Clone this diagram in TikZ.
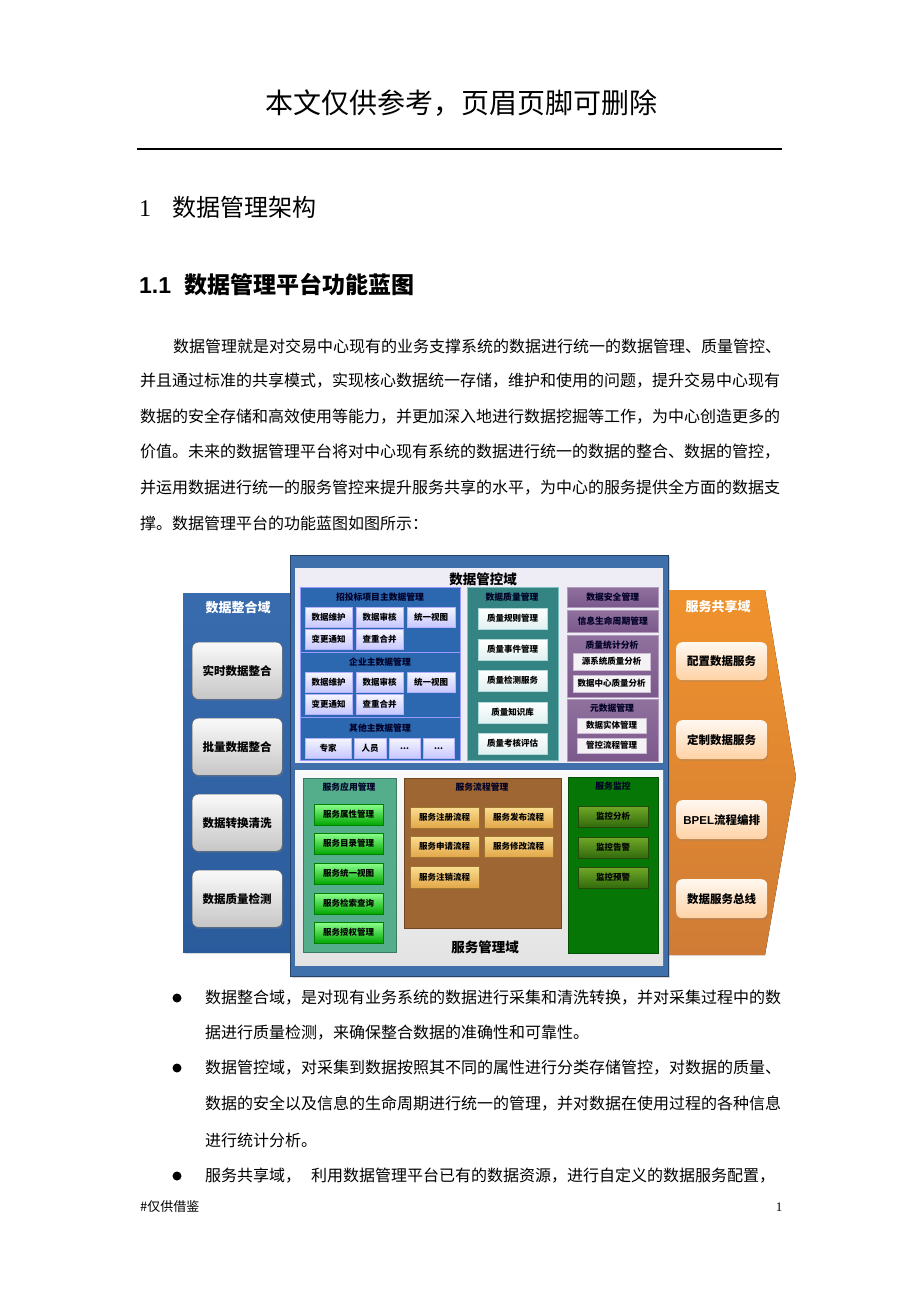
\documentclass[tikz,border=0pt]{standalone}
\usepackage{fontspec}
\usepackage{xcolor}
\setmainfont{Liberation Serif}
\newfontfamily\cjk{Noto Sans CJK SC}
\newfontfamily\arial{Liberation Sans}
\usetikzlibrary{positioning,shadows}
\newcommand{\setfs}[1]{\fontsize{#1}{#1}\selectfont}
\definecolor{intblue}{RGB}{46,100,170}
\definecolor{ctrlblue}{RGB}{64,112,172}
\definecolor{ctrlbg}{RGB}{238,237,246}
\definecolor{mdblue}{RGB}{44,104,176}
\definecolor{qualteal}{RGB}{52,132,132}
\definecolor{secpurple}{RGB}{124,88,140}
\definecolor{appteal}{RGB}{84,174,140}
\definecolor{flowbrown}{RGB}{158,102,50}
\definecolor{flowtop}{RGB}{250,222,145}
\definecolor{flowbot}{RGB}{226,166,72}
\definecolor{mongreen}{RGB}{6,118,6}
\definecolor{montop}{RGB}{112,168,40}
\definecolor{monbot}{RGB}{50,105,12}
\definecolor{shrorange}{RGB}{240,146,44}
\definecolor{shrdark}{RGB}{208,124,54}

\tikzset{
  wh/.style 2 args={minimum width=#1, minimum height=#2, anchor=north west, inner sep=0pt},
  para/.style={anchor=west, inner sep=0pt, font=\cjk\setfs{16}},
  intbox/.style={rounded corners=6pt, draw=gray!70!black, top color=white!96!gray, bottom color=gray!45,
    font=\cjk\bfseries\setfs{11.5}, drop shadow={opacity=0.35, shadow xshift=1pt, shadow yshift=-1.5pt}},
  shrbox/.style={rounded corners=6pt, top color=orange!6, bottom color=orange!35!white,
    font=\cjk\bfseries\setfs{11.5}, drop shadow={opacity=0.3, shadow xshift=1pt, shadow yshift=-1.5pt}},
  domttl/.style={font=\cjk\bfseries\setfs{13}, inner sep=0pt},
  mdblock/.style={fill=mdblue, draw=blue!40!white},
  blkttl/.style={font=\cjk\bfseries\setfs{8.8}, inner sep=0pt, text=black!85!blue},
  mdsub/.style={top color=blue!4, bottom color=blue!22, draw=blue!30, font=\cjk\bfseries\setfs{8.5}},
  qualsub/.style={top color=white, bottom color=teal!12, draw=teal!30, font=\cjk\bfseries\setfs{8.5}},
  purblock/.style={top color=secpurple!85, bottom color=secpurple, draw=secpurple!60},
  pursub/.style={fill=white!92!secpurple, draw=secpurple!40, font=\cjk\bfseries\setfs{8.5}},
  appbtn/.style={top color=green!45!white, bottom color=green!65!black, draw=green!50!black,
    font=\cjk\bfseries\setfs{8.5}, drop shadow={opacity=0.3, shadow xshift=1pt, shadow yshift=-1pt}},
  flowbtn/.style={top color=flowtop, bottom color=flowbot, draw=flowbot!70!black,
    font=\cjk\bfseries\setfs{8.5}, drop shadow={opacity=0.3, shadow xshift=1pt, shadow yshift=-1pt}},
  monbtn/.style={top color=montop, bottom color=monbot, draw=monbot!70!black,
    font=\cjk\bfseries\setfs{8.5}, drop shadow={opacity=0.3, shadow xshift=1pt, shadow yshift=-1pt}},
  bullet/.style={circle, fill=black, inner sep=0pt, minimum size=9pt}
}

\begin{document}
\begin{tikzpicture}[x=1pt, y=-1pt]
    \useasboundingbox (0,0) rectangle (920,1302);
    \fill[white] (0,0) rectangle (920,1302);

    % page header
    \node[font=\cjk\setfs{28}] (hdr) at (461,103) {本文仅供参考，页眉页脚可删除};
    \coordinate (rulel) at (137,149);
    \coordinate (ruler) at (782,149);
    \draw[line width=1.2pt] (rulel) -- (ruler);

    % headings
    \node[anchor=west, inner sep=0pt, font=\setfs{24}] (h1) at (139,207) {1\hspace{21pt}{\cjk 数据管理架构}};
    \node[anchor=west, inner sep=0pt, font=\bfseries\setfs{23}] (h2) at (139,285) {{\arial 1.1}\hspace{13pt}{\cjk 数据管理平台功能蓝图}};

    % paragraph
    \node[para] (p1) at (173,346) {数据管理就是对交易中心现有的业务支撑系统的数据进行统一的数据管理、质量管控、};
    \node[para] (p2) at (140,381) {并且通过标准的共享模式，实现核心数据统一存储，维护和使用的问题，提升交易中心现有};
    \node[para] (p3) at (140,417) {数据的安全存储和高效使用等能力，并更加深入地进行数据挖掘等工作，为中心创造更多的};
    \node[para] (p4) at (140,452) {价值。未来的数据管理平台将对中心现有系统的数据进行统一的数据的整合、数据的管控，};
    \node[para] (p5) at (140,488) {并运用数据进行统一的服务管控来提升服务共享的水平，为中心的服务提供全方面的数据支};
    \node[para] (p6) at (140,523) {撑。数据管理平台的功能蓝图如图所示：};

    % ---- 数据整合域 ----
    \node[wh={107}{359}, top color=intblue!95!white, bottom color=intblue!92!black,
          drop shadow={opacity=0.3, shadow xshift=1.5pt, shadow yshift=-1.5pt}] (intdom) at (183,593) {};
    \node[domttl, text=white] (intttl) at (238,608) {数据整合域};
    \node[intbox, wh={90}{57}] (rtint) at (192,642) {实时数据整合};
    \node[intbox, wh={90}{57}] (btint) at (192,718) {批量数据整合};
    \node[intbox, wh={90}{57}] (cvint) at (192,794) {数据转换清洗};
    \node[intbox, wh={90}{57}] (qcint) at (192,870) {数据质量检测};

    % ---- 服务共享域 ----
    \fill[top color=shrorange, bottom color=shrdark] (667,590) -- (765,590) -- (796,777) -- (765,955) -- (667,955) -- cycle;
    \node[domttl, text=white] (shrttl) at (718,607) {服务共享域};
    \node[shrbox, wh={91}{38}] (cfgsvc) at (676,642) {配置数据服务};
    \node[shrbox, wh={91}{39}] (cussvc) at (676,720) {定制数据服务};
    \node[shrbox, wh={91}{39}] (bpel) at (676,800) {{\arial BPEL}流程编排};
    \node[shrbox, wh={91}{39}] (bus) at (676,879) {数据服务总线};

    % ---- center frame ----
    \node[wh={378}{421}, fill=ctrlblue, draw=ctrlblue!60!black, line width=1pt,
          drop shadow={opacity=0.3, shadow xshift=1.5pt, shadow yshift=-1.5pt}] (frame) at (290,555) {};
    \node[wh={368}{195}, fill=ctrlbg] (ctrlarea) at (295,568) {};
    \node[wh={368}{195}, top color=white!96!gray, bottom color=gray!22] (svcarea) at (295,770) {};
    \node[font=\cjk\bfseries\setfs{13.5}, inner sep=0pt] (ctrlttl) at (483,579) {数据管控域};

    % master data blocks
    \node[mdblock, wh={160}{65}] (mdA) at (300,587) {};
    \node[blkttl] (mdAttl) at (380,597) {招投标项目主数据管理};
    \node[mdsub, wh={47}{20}] (mdA1) at (305,607) {数据维护};
    \node[mdsub, wh={47}{20}] (mdA2) at (356,607) {数据审核};
    \node[mdsub, wh={48}{20}] (mdA3) at (407,607) {统一视图};
    \node[mdsub, wh={47}{20}] (mdA4) at (305,629) {变更通知};
    \node[mdsub, wh={47}{20}] (mdA5) at (356,629) {查重合并};

    \node[mdblock, wh={160}{65}] (mdB) at (300,652) {};
    \node[blkttl] (mdBttl) at (380,662) {企业主数据管理};
    \node[mdsub, wh={47}{20}] (mdB1) at (305,672) {数据维护};
    \node[mdsub, wh={47}{20}] (mdB2) at (356,672) {数据审核};
    \node[mdsub, wh={48}{20}] (mdB3) at (407,672) {统一视图};
    \node[mdsub, wh={47}{20}] (mdB4) at (305,694) {变更通知};
    \node[mdsub, wh={47}{20}] (mdB5) at (356,694) {查重合并};

    \node[mdblock, wh={160}{43}] (mdC) at (300,717) {};
    \node[blkttl] (mdCttl) at (380,728) {其他主数据管理};
    \node[mdsub, wh={46}{20}] (mdC1) at (305,738) {专家};
    \node[mdsub, wh={32}{20}] (mdC2) at (354,738) {人员};
    \node[mdsub, wh={31}{20}] (mdC3) at (389,738) {...};
    \node[mdsub, wh={31}{20}] (mdC4) at (423,738) {...};

    % quality management
    \node[wh={91}{173}, fill=qualteal, draw=teal!50] (qual) at (467,587) {};
    \node[blkttl] (qualttl) at (512,597) {数据质量管理};
    \node[qualsub, wh={69}{21}] (qual1) at (478,608) {质量规则管理};
    \node[qualsub, wh={69}{21}] (qual2) at (478,639) {质量事件管理};
    \node[qualsub, wh={69}{21}] (qual3) at (478,670) {质量检测服务};
    \node[qualsub, wh={69}{21}] (qual4) at (478,702) {质量知识库};
    \node[qualsub, wh={69}{21}] (qual5) at (478,733) {质量考核评估};

    % security / lifecycle / statistics / metadata
    \node[purblock, wh={91}{20}, blkttl] (sec) at (567,587) {数据安全管理};
    \node[purblock, wh={91}{22}, blkttl] (life) at (567,610) {信息生命周期管理};
    \node[purblock, wh={91}{62}] (stat) at (567,635) {};
    \node[blkttl] (statttl) at (612,645) {质量统计分析};
    \node[pursub, wh={77}{17}] (stat1) at (573,653) {源系统质量分析};
    \node[pursub, wh={77}{17}] (stat2) at (573,675) {数据中心质量分析};
    \node[purblock, wh={91}{62}] (meta) at (567,699) {};
    \node[blkttl] (metattl) at (612,708) {元数据管理};
    \node[pursub, wh={69}{15}] (meta1) at (577,718) {数据实体管理};
    \node[pursub, wh={69}{15}] (meta2) at (577,738) {管控流程管理};

    % ---- 服务管理域 ----
    \node[wh={93}{174}, fill=appteal, draw=appteal!70!black] (app) at (303,778) {};
    \node[blkttl] (appttl) at (349,787) {服务应用管理};
    \node[appbtn, wh={69}{21}] (app1) at (314,804) {服务属性管理};
    \node[appbtn, wh={69}{21}] (app2) at (314,833) {服务目录管理};
    \node[appbtn, wh={69}{21}] (app3) at (314,863) {服务统一视图};
    \node[appbtn, wh={69}{21}] (app4) at (314,893) {服务检索查询};
    \node[appbtn, wh={69}{21}] (app5) at (314,922) {服务授权管理};

    \node[wh={157}{150}, fill=flowbrown, draw=flowbrown!70!black] (flow) at (404,778) {};
    \node[blkttl] (flowttl) at (482,787) {服务流程管理};
    \node[flowbtn, wh={69}{21}] (flow1) at (410,807) {服务注册流程};
    \node[flowbtn, wh={69}{21}] (flow2) at (484,807) {服务发布流程};
    \node[flowbtn, wh={69}{21}] (flow3) at (410,836) {服务申请流程};
    \node[flowbtn, wh={69}{21}] (flow4) at (484,836) {服务修改流程};
    \node[flowbtn, wh={69}{22}] (flow5) at (410,866) {服务注销流程};

    \node[font=\cjk\bfseries\setfs{13.5}, inner sep=0pt] (svcttl) at (485,947) {服务管理域};

    \node[wh={90}{176}, fill=mongreen, draw=mongreen!70!black] (mon) at (568,777) {};
    \node[blkttl] (monttl) at (613,786) {服务监控};
    \node[monbtn, wh={70}{21}] (mon1) at (578,806) {监控分析};
    \node[monbtn, wh={70}{21}] (mon2) at (578,837) {监控告警};
    \node[monbtn, wh={70}{21}] (mon3) at (578,867) {监控预警};

    % bullet list
    \node[bullet] (d1) at (177,998) {};
    \node[para] (b1) at (205,998) {数据整合域，是对现有业务系统的数据进行采集和清洗转换，并对采集过程中的数};
    \node[para] (b1b) at (205,1033) {据进行质量检测，来确保整合数据的准确性和可靠性。};
    \node[bullet] (d2) at (177,1068) {};
    \node[para] (b2) at (205,1068) {数据管控域，对采集到数据按照其不同的属性进行分类存储管控，对数据的质量、};
    \node[para] (b2b) at (205,1104) {数据的安全以及信息的生命周期进行统一的管理，并对数据在使用过程的各种信息};
    \node[para] (b2c) at (205,1140) {进行统计分析。};
    \node[bullet] (d3) at (177,1176) {};
    \node[para] (b3) at (205,1176) {服务共享域，\hspace{10pt}利用数据管理平台已有的数据资源，进行自定义的数据服务配置，};

    % footer
    \node[anchor=west, inner sep=0pt, font=\cjk\setfs{13}] (foot) at (140,1207) {\#仅供借鉴};
    \node[inner sep=0pt, font=\setfs{13}] (pgno) at (779,1207) {1};
\end{tikzpicture}
\end{document}
